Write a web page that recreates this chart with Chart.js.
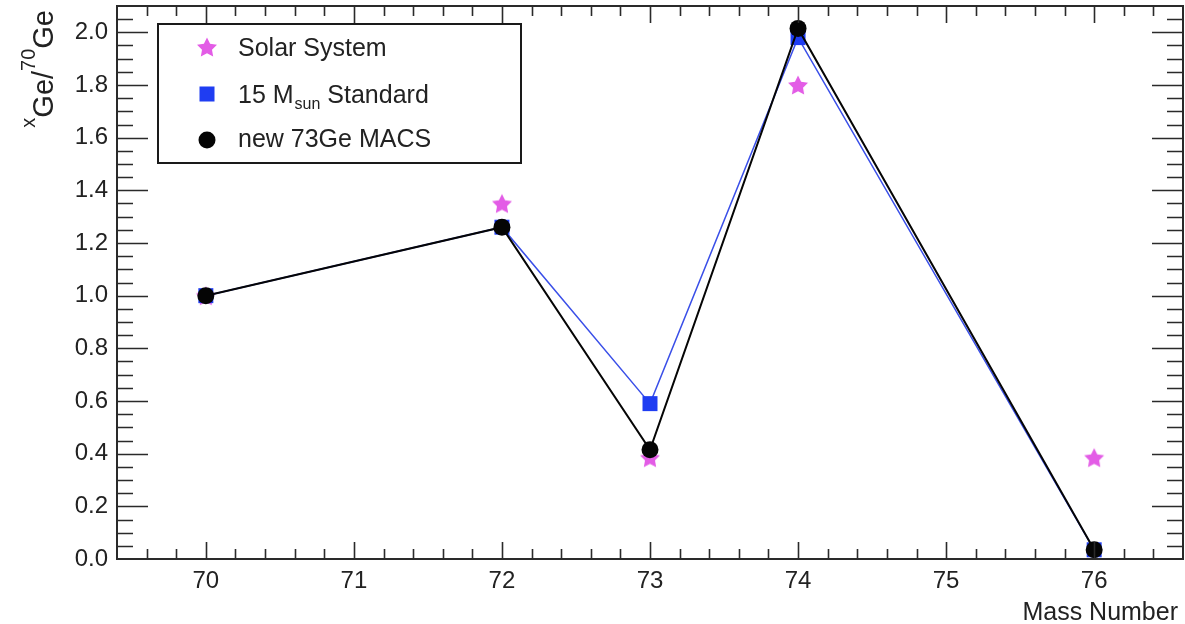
<!DOCTYPE html>
<html>
<head>
<meta charset="utf-8">
<script src="https://cdn.jsdelivr.net/npm/chart.js@4.4.1/dist/chart.umd.min.js"></script>
<style>
  html, body { margin: 0; padding: 0; background: #ffffff; }
  canvas { display: block; }
</style>
</head>
<body>
<canvas id="chart" width="1185" height="624"></canvas>
<script>
// Germanium isotope ratios relative to 70Ge
const massNumbers   = [70, 72, 73, 74, 76];
const solarSystem   = [1.00, 1.35, 0.385, 1.80, 0.385];
const standard15    = [1.00, 1.26, 0.59, 1.98, 0.035];
const newMacs73Ge   = [1.00, 1.26, 0.415, 2.015, 0.035];

const xTickValues = [70, 71, 72, 73, 74, 75, 76];
const yTickValues = [0.0, 0.2, 0.4, 0.6, 0.8, 1.0, 1.2, 1.4, 1.6, 1.8, 2.0];
const xRange = [69.4, 76.6];
const yRange = [0, 2.1];
const xMinorStep = 0.2;
const yMinorStep = 0.05;

const FONT = '"Liberation Sans", Arial, Helvetica, sans-serif';
const INK = '#222222';
const STAR_COLOR = '#e35ce6';
const BLUE = '#1f3df2';
const BLUE_LINE = '#3a4fe8';
const BLACK = '#050505';

// Filled five-pointed star used as the point marker
function makeStar(size, color) {
  const c = document.createElement('canvas');
  c.width = size; c.height = size;
  const g = c.getContext('2d');
  const R = size / 2 - 0.5, r = R * 0.5;
  const cx = size / 2, cy = size / 2 + R * 0.1;
  g.beginPath();
  for (let i = 0; i < 10; i++) {
    const a = -Math.PI / 2 + i * Math.PI / 5;
    const rr = (i % 2) ? r : R;
    g.lineTo(cx + rr * Math.cos(a), cy + rr * Math.sin(a));
  }
  g.closePath();
  g.fillStyle = color;
  g.fill();
  return c;
}
const starMarker = makeStar(22, STAR_COLOR);

const toPoints = (ys) => massNumbers.map((x, i) => ({ x, y: ys[i] }));

// ROOT-style frame with inward ticks on all four sides, axis titles and legend box
const framePlugin = {
  id: 'frame',
  afterDraw(chart) {
    const { ctx, chartArea: a, scales } = chart;
    const xs = scales.x, ys = scales.y;
    ctx.save();
    ctx.strokeStyle = '#2a2a2a';
    ctx.lineWidth = 1.6;
    ctx.beginPath();
    // x ticks (bottom and top)
    const nx = Math.round((xRange[1] - xRange[0]) / xMinorStep);
    for (let i = 1; i < nx; i++) {
      const v = xRange[0] + i * xMinorStep;
      const major = Math.abs(v - Math.round(v)) < 1e-6;
      const len = major ? 17 : 10;
      const px = Math.round(xs.getPixelForValue(v)) + 0.5;
      ctx.moveTo(px, a.bottom); ctx.lineTo(px, a.bottom - len);
      ctx.moveTo(px, a.top); ctx.lineTo(px, a.top + len);
    }
    // y ticks (left and right)
    const ny = Math.round((yRange[1] - yRange[0]) / yMinorStep);
    for (let i = 1; i < ny; i++) {
      const v = yRange[0] + i * yMinorStep;
      const major = Math.abs(v / 0.2 - Math.round(v / 0.2)) < 1e-6;
      const len = major ? 31 : 16;
      const py = Math.round(ys.getPixelForValue(v)) + 0.5;
      ctx.moveTo(a.left, py); ctx.lineTo(a.left + len, py);
      ctx.moveTo(a.right, py); ctx.lineTo(a.right - len, py);
    }
    ctx.stroke();
    ctx.lineWidth = 2;
    ctx.strokeRect(a.left, a.top, a.right - a.left, a.bottom - a.top);

    // x-axis title
    ctx.fillStyle = INK;
    ctx.font = '25px ' + FONT;
    ctx.textAlign = 'right';
    ctx.textBaseline = 'alphabetic';
    ctx.fillText('Mass Number', 1178, 620);

    // y-axis title: xGe/70Ge with superscripts, reading upward, ending near the top
    const parts = [
      { t: 'x', sup: true }, { t: 'Ge' }, { t: '/' }, { t: '70', sup: true }, { t: 'Ge' }
    ];
    const mainFont = '29px ' + FONT, supFont = '20px ' + FONT;
    let total = 0;
    parts.forEach(p => { ctx.font = p.sup ? supFont : mainFont; p.w = ctx.measureText(p.t).width; total += p.w; });
    ctx.translate(53, 10);
    ctx.rotate(-Math.PI / 2);
    ctx.textAlign = 'left';
    let xp = -total;
    parts.forEach(p => {
      ctx.font = p.sup ? supFont : mainFont;
      ctx.fillText(p.t, xp, p.sup ? -18 : 0);
      xp += p.w;
    });
    ctx.setTransform(1, 0, 0, 1, 0, 0);

    // legend
    const L = { x: 158, y: 24, w: 363, h: 139 };
    ctx.fillStyle = '#ffffff';
    ctx.fillRect(L.x, L.y, L.w, L.h);
    ctx.strokeStyle = '#1a1a1a';
    ctx.lineWidth = 2;
    ctx.strokeRect(L.x, L.y, L.w, L.h);
    const mx = 207, tx = 238;
    const rows = [
      { cy: 47, base: 56 },
      { cy: 94, base: 103 },
      { cy: 140, base: 147 }
    ];
    // markers
    ctx.drawImage(starMarker, mx - starMarker.width / 2, rows[0].cy - starMarker.height / 2);
    ctx.fillStyle = BLUE;
    ctx.fillRect(mx - 7.5, rows[1].cy - 7.5, 15, 15);
    ctx.fillStyle = BLACK;
    ctx.beginPath(); ctx.arc(mx, rows[2].cy, 8.5, 0, Math.PI * 2); ctx.fill();
    // labels
    const ds = chart.data.datasets;
    ctx.fillStyle = INK;
    ctx.textAlign = 'left';
    ctx.font = '25px ' + FONT;
    ctx.fillText(ds[2].label, tx, rows[0].base);
    // "15 M_sun Standard"
    let lx = tx;
    const lead = '15 M', sub = 'sun', tail = ' Standard';
    ctx.fillText(lead, lx, rows[1].base); lx += ctx.measureText(lead).width + 1;
    ctx.font = '16px ' + FONT;
    ctx.fillText(sub, lx, rows[1].base + 6); lx += ctx.measureText(sub).width;
    ctx.font = '25px ' + FONT;
    ctx.fillText(tail, lx, rows[1].base);
    ctx.fillText(ds[0].label, tx, rows[2].base);
    ctx.restore();
  }
};

new Chart(document.getElementById('chart'), {
  type: 'line',
  data: {
    datasets: [
      {
        label: 'new 73Ge MACS',
        data: toPoints(newMacs73Ge),
        borderColor: BLACK,
        borderWidth: 2,
        pointStyle: 'circle',
        pointRadius: 8.5,
        pointBorderWidth: 0,
        pointBackgroundColor: BLACK,
        order: 1
      },
      {
        label: '15 Msun Standard',
        data: toPoints(standard15),
        borderColor: BLUE_LINE,
        borderWidth: 1.5,
        pointStyle: 'rect',
        pointRadius: 10.6,
        pointBorderWidth: 0,
        pointBackgroundColor: BLUE,
        order: 2
      },
      {
        label: 'Solar System',
        data: toPoints(solarSystem),
        showLine: false,
        pointStyle: starMarker,
        pointRadius: 11,
        order: 3
      }
    ]
  },
  options: {
    responsive: false,
    animation: false,
    devicePixelRatio: 1,
    layout: { autoPadding: false, padding: { top: 6, right: 2, left: 0, bottom: 0 } },
    plugins: { legend: { display: false }, tooltip: { enabled: false } },
    elements: { line: { tension: 0 } },
    scales: {
      x: {
        type: 'linear',
        min: xRange[0],
        max: xRange[1],
        grid: { display: false, drawTicks: false },
        border: { display: false },
        ticks: {
          font: { family: FONT, size: 24 },
          color: INK,
          padding: 8,
          maxRotation: 0,
          callback: (v) => String(v)
        },
        afterBuildTicks: (s) => { s.ticks = xTickValues.map(v => ({ value: v })); },
        afterFit: (s) => { s.height = 65; s.paddingLeft = 0; s.paddingRight = 0; }
      },
      y: {
        type: 'linear',
        min: yRange[0],
        max: yRange[1],
        grid: { display: false, drawTicks: false },
        border: { display: false },
        ticks: {
          font: { family: FONT, size: 24 },
          color: INK,
          padding: 9,
          callback: (v) => Number(v).toFixed(1)
        },
        afterBuildTicks: (s) => { s.ticks = yTickValues.map(v => ({ value: v })); },
        afterFit: (s) => { s.width = 117; s.paddingTop = 0; s.paddingBottom = 0; }
      }
    }
  },
  plugins: [framePlugin]
});
</script>
</body>
</html>
